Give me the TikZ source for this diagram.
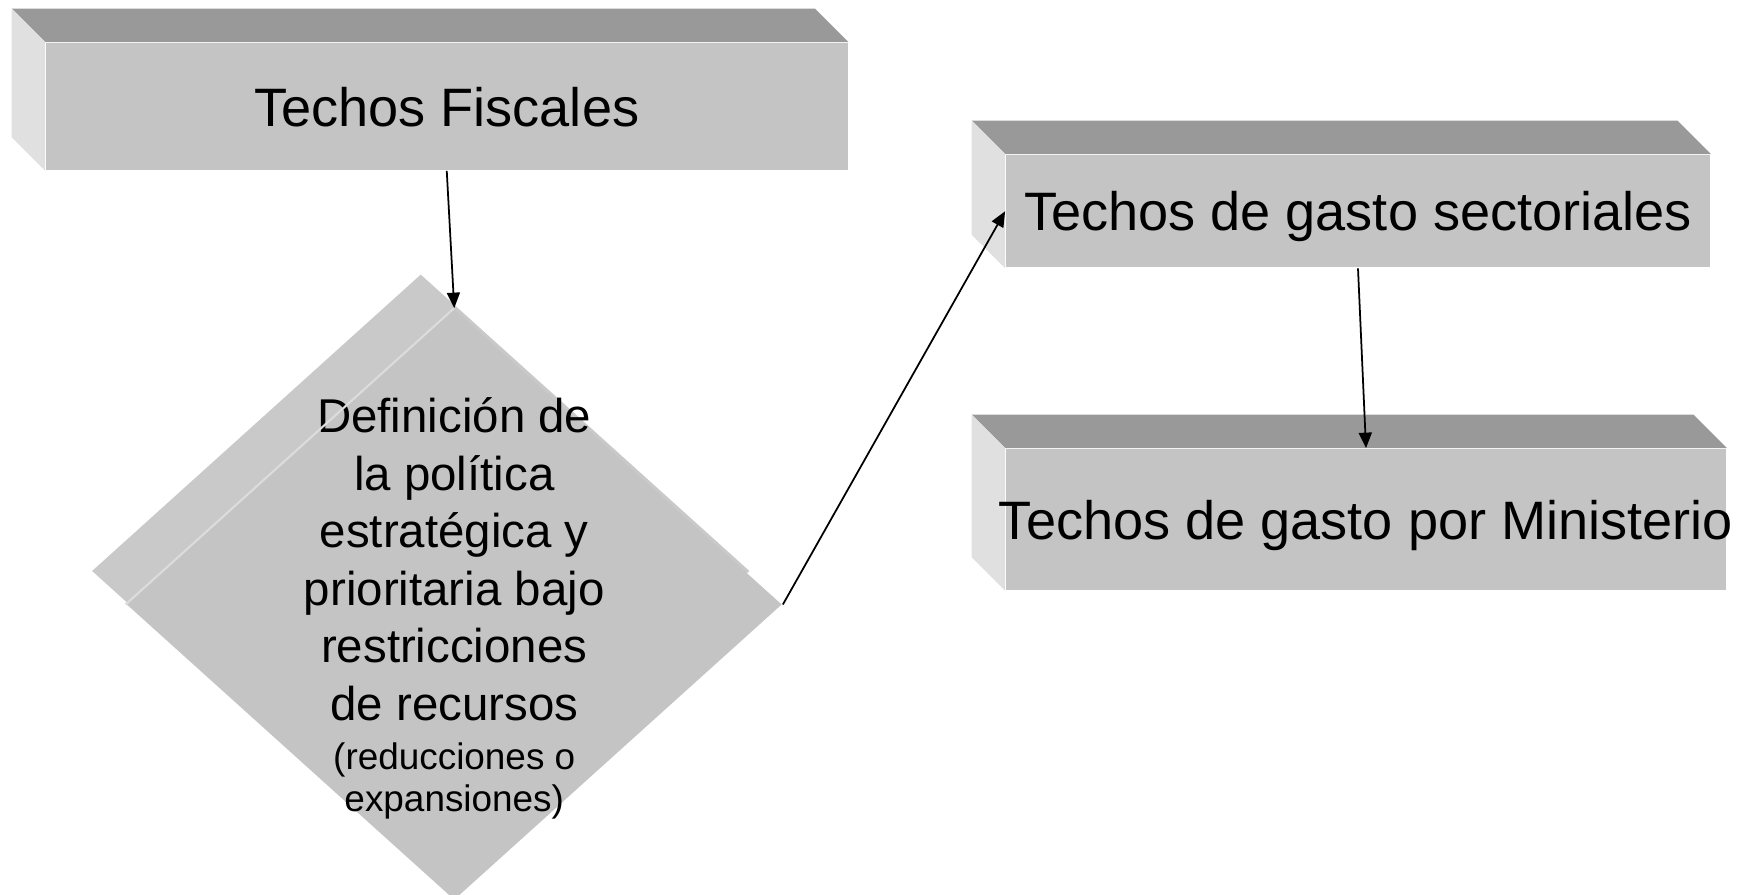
\documentclass[tikz,border=0pt]{standalone}
\usepackage{fontspec}
\setmainfont{Liberation Sans}
\usetikzlibrary{arrows.meta, shapes.geometric, backgrounds}

\definecolor{frontgray}{RGB}{196,196,196}
\definecolor{topgray}{RGB}{153,153,153}
\definecolor{sidegray}{RGB}{224,224,224}
\definecolor{edgegray}{RGB}{220,220,220}

\begin{document}
\begin{tikzpicture}[>={Triangle[length=4.4pt,width=3.7pt]}, line width=0.5pt,
  block/.style={rectangle, fill=frontgray, inner sep=0pt, inner xsep=-4pt,
    text depth=0pt, font=\fontsize{15.4}{18}\selectfont},
  decision/.style={diamond, fill=frontgray, inner sep=0pt,
    minimum width=6.555cm, minimum height=5.91cm},
  topface/.style={fill=topgray},
  sideface/.style={fill=sidegray},
  backface/.style={fill=frontgray!92!white}]

  \useasboundingbox (0,0) rectangle (17.43,8.95);
  \clip (0,0) rectangle (17.43,8.95);

% define the blocks
  \node[block, minimum width=8.015cm, minimum height=1.27cm]  (fiscal)     at (4.4675,7.885) {Techos Fiscales};
  \node[block, minimum width=7.04cm, minimum height=1.125cm]  (sector)     at (13.58,6.8375) {Techos de gasto sectoriales};
  \node[block, minimum width=7.20cm, minimum height=1.41cm]   (ministerio) at (13.66,3.755)  {Techos de gasto por Ministerio};
  \node[decision]                                              (politica)   at (4.5425,2.905)  {};
  \node[align=center, inner sep=0pt, font=\fontsize{13.5}{16.35}\selectfont]
       (politicatext) at ([yshift=-0.04cm]politica.center)
       {Definición de\\la política\\estratégica y\\prioritaria bajo\\restricciones\\de recursos\\[-2.2pt]
        {\fontsize{10.5}{12.6}\selectfont (reducciones o}\\[-4.5pt]
        {\fontsize{10.5}{12.6}\selectfont expansiones)}};

% define the 3d faces
  \begin{scope}[on background layer]
    \fill[topface]  (fiscal.north west) -- ++(-0.335,0.335) -- ([shift={(-0.335,0.335)}]fiscal.north east) -- (fiscal.north east) -- cycle;
    \fill[sideface] (fiscal.north west) -- ++(-0.335,0.335) -- ([shift={(-0.335,0.335)}]fiscal.south west) -- (fiscal.south west) -- cycle;
    \fill[topface]  (sector.north west) -- ++(-0.335,0.335) -- ([shift={(-0.335,0.335)}]sector.north east) -- (sector.north east) -- cycle;
    \fill[sideface] (sector.north west) -- ++(-0.335,0.335) -- ([shift={(-0.335,0.335)}]sector.south west) -- (sector.south west) -- cycle;
    \fill[topface]  (ministerio.north west) -- ++(-0.335,0.335) -- ([shift={(-0.335,0.335)}]ministerio.north east) -- (ministerio.north east) -- cycle;
    \fill[sideface] (ministerio.north west) -- ++(-0.335,0.335) -- ([shift={(-0.335,0.335)}]ministerio.south west) -- (ministerio.south west) -- cycle;
    \fill[backface] ([shift={(-0.335,0.335)}]politica.north) -- ([shift={(-0.335,0.335)}]politica.east)
                 -- ([shift={(-0.335,0.335)}]politica.south) -- ([shift={(-0.335,0.335)}]politica.west) -- cycle;
  \end{scope}
  \draw[edgegray, line width=0.6pt] (politica.west) -- (politica.north);

% define the links
  \path[->] (fiscal.south) edge (politica.north)
            (politica.east) edge (sector.west)
            (sector.south) edge (ministerio.north);

\end{tikzpicture}
\end{document}
